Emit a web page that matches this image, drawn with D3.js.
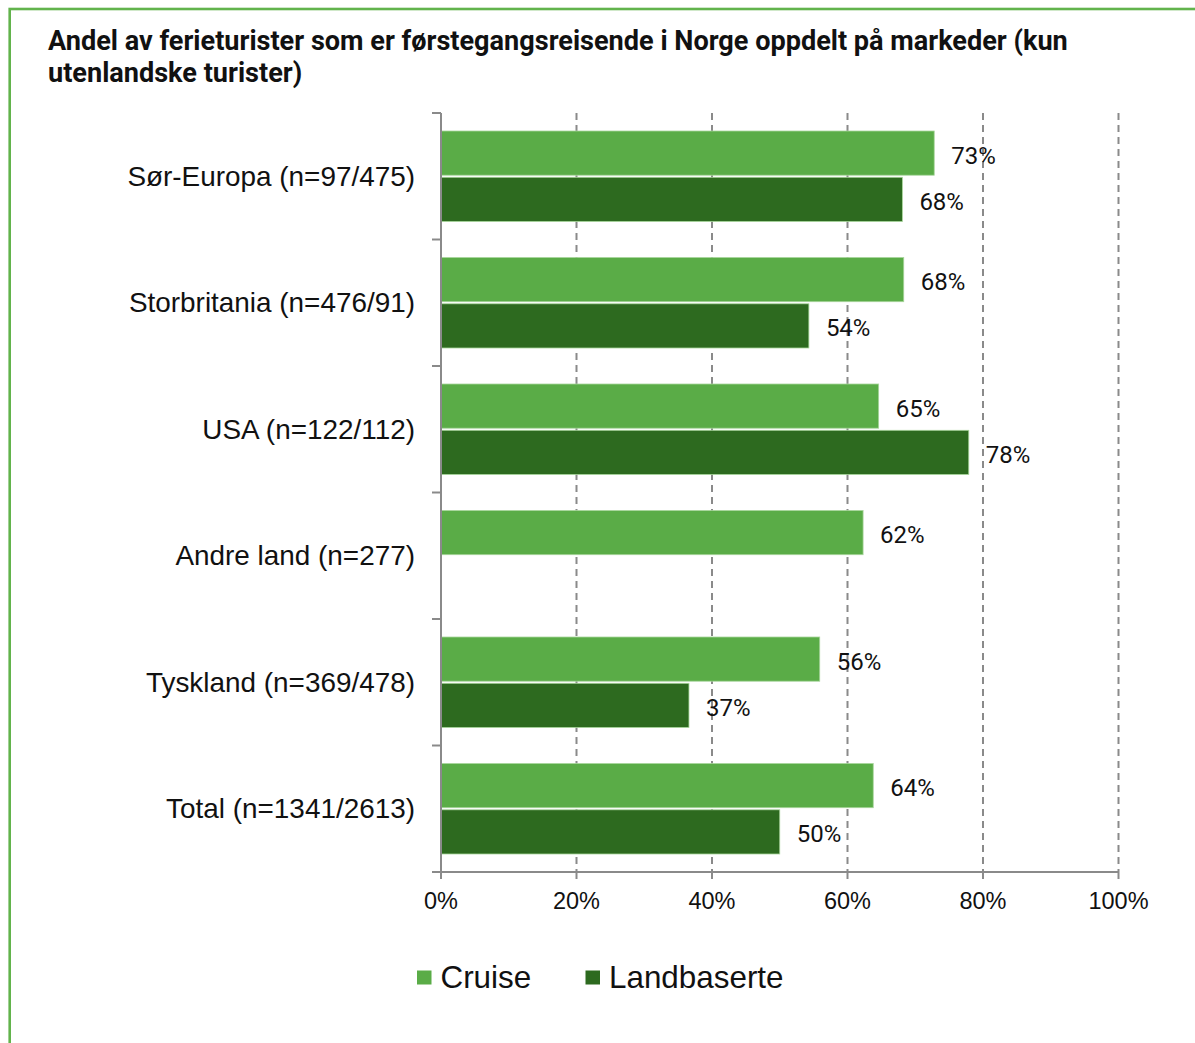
<!DOCTYPE html>
<html>
<head>
<meta charset="utf-8">
<script src="https://cdn.jsdelivr.net/npm/d3@7"></script>
<style>
  html, body { margin: 0; padding: 0; background: #fff; }
  svg { display: block; }
  .title { font-family: Roboto, "DejaVu Sans", sans-serif; font-weight: 700; fill: #111; }
  .cat-label { font-family: "Liberation Sans", Arial, sans-serif; font-size: 27.9px; fill: #111; }
  .tick-label { font-family: "Liberation Sans", Arial, sans-serif; font-size: 23.5px; fill: #111; }
  .value-label { font-family: Roboto, "DejaVu Sans", sans-serif; font-size: 24px; fill: #111; }
  .legend-label { font-family: "Liberation Sans", Arial, sans-serif; font-size: 31.4px; fill: #111; }
</style>
</head>
<body>
<svg id="chart" width="1195" height="1043"></svg>
<script>
// data (bar lengths estimated, labels rounded)
var categories = [
  'Sør-Europa (n=97/475)',
  'Storbritania (n=476/91)',
  'USA (n=122/112)',
  'Andre land (n=277)',
  'Tyskland (n=369/478)',
  'Total (n=1341/2613)'
];
var seriesNames = ['Cruise', 'Landbaserte'];
var cruiseValues = [72.8, 68.3, 64.6, 62.3, 55.9, 63.8];
var landValues = [68.1, 54.3, 77.9, null, 36.6, 50.0];
var tickValues = [0, 20, 40, 60, 80, 100];
var titleLines = [
  'Andel av ferieturister som er førstegangsreisende i Norge oppdelt på markeder (kun',
  'utenlandske turister)'
];

(function () {
  'use strict';

  var colors = { 'Cruise': '#5aac47', 'Landbaserte': '#2d6a1f' };
  var axisColor = '#8a8a8a';

  var svg = d3.select('#chart');

  // green frame, runs off the right and bottom edges
  svg.append('rect')
    .attr('x', 9.7).attr('y', 9)
    .attr('width', 1300).attr('height', 1200)
    .attr('fill', 'none')
    .attr('stroke', '#62b34c')
    .attr('stroke-width', 2.6);

  // title, fitted so the first line spans the same width as the reference
  var baseSize = 23;
  var lines = svg.append('g')
    .selectAll('text')
    .data(titleLines)
    .enter()
    .append('text')
    .attr('class', 'title')
    .attr('x', 48)
    .attr('y', function (d, i) { return 50 + i * 32; })
    .style('font-size', baseSize + 'px')
    .text(function (d) { return d; });
  var w = lines.nodes()[0].getComputedTextLength();
  lines.style('font-size', (baseSize * 1020 / w) + 'px');

  var x = d3.scaleLinear().domain([0, 100]).range([441, 1118.5]);
  var y = d3.scaleBand().domain(categories).range([113, 872]);
  var y1 = d3.scaleBand().domain(seriesNames)
    .range([18, y.step() - 18])
    .paddingInner(0.045);

  // dashed gridlines
  svg.append('g')
    .selectAll('line')
    .data(tickValues.filter(function (t) { return t > 0; }))
    .enter()
    .append('line')
    .attr('x1', function (d) { return x(d); })
    .attr('x2', function (d) { return x(d); })
    .attr('y1', 113).attr('y2', 872)
    .attr('stroke', axisColor)
    .attr('stroke-width', 2)
    .attr('stroke-dasharray', '7,5');

  // bars
  var rows = categories.map(function (c, i) {
    return { category: c, values: [
      { name: 'Cruise', value: cruiseValues[i] },
      { name: 'Landbaserte', value: landValues[i] }
    ] };
  });

  var group = svg.append('g')
    .selectAll('g')
    .data(rows)
    .enter()
    .append('g')
    .attr('transform', function (d) { return 'translate(0,' + y(d.category) + ')'; });

  var bar = group.selectAll('g')
    .data(function (d) { return d.values.filter(function (v) { return v.value != null; }); })
    .enter()
    .append('g');

  bar.append('rect')
    .attr('x', x(0))
    .attr('y', function (d) { return y1(d.name); })
    .attr('width', function (d) { return x(d.value) - x(0); })
    .attr('height', y1.bandwidth())
    .attr('fill', function (d) { return colors[d.name]; })
    .attr('stroke', '#a9d69c')
    .attr('stroke-width', 0.8);

  bar.append('text')
    .attr('class', 'value-label')
    .attr('x', function (d) { return x(d.value) + 17; })
    .attr('y', function (d) { return y1(d.name) + y1.bandwidth() / 2 + 10.5; })
    .text(function (d) { return Math.round(d.value) + '%'; });

  // y axis line and category ticks
  var axis = svg.append('g');
  axis.append('line')
    .attr('x1', 441).attr('x2', 441)
    .attr('y1', 113).attr('y2', 872)
    .attr('stroke', axisColor).attr('stroke-width', 2);

  axis.selectAll('.ytick')
    .data(categories)
    .enter()
    .append('line')
    .attr('class', 'ytick')
    .attr('x1', 432).attr('x2', 441)
    .attr('y1', function (d) { return y(d); })
    .attr('y2', function (d) { return y(d); })
    .attr('stroke', axisColor).attr('stroke-width', 2);

  axis.selectAll('.cat-label')
    .data(categories)
    .enter()
    .append('text')
    .attr('class', 'cat-label')
    .attr('x', 415)
    .attr('y', function (d) { return y(d) + y.bandwidth() / 2 + 9.5; })
    .attr('text-anchor', 'end')
    .text(function (d) { return d; });

  // x axis
  axis.append('line')
    .attr('x1', 432).attr('x2', x(100))
    .attr('y1', 872).attr('y2', 872)
    .attr('stroke', axisColor).attr('stroke-width', 2);

  axis.selectAll('.xtick')
    .data(tickValues)
    .enter()
    .append('line')
    .attr('class', 'xtick')
    .attr('x1', function (d) { return x(d); })
    .attr('x2', function (d) { return x(d); })
    .attr('y1', 872).attr('y2', 879)
    .attr('stroke', axisColor).attr('stroke-width', 2);

  axis.selectAll('.tick-label')
    .data(tickValues)
    .enter()
    .append('text')
    .attr('class', 'tick-label')
    .attr('x', function (d) { return x(d); })
    .attr('y', 909)
    .attr('text-anchor', 'middle')
    .text(function (d) { return d + '%'; });

  // legend
  var legendX = [417, 585.5];
  var legend = svg.append('g')
    .selectAll('g')
    .data(seriesNames)
    .enter()
    .append('g')
    .attr('transform', function (d, i) { return 'translate(' + legendX[i] + ',0)'; });

  legend.append('rect')
    .attr('x', 0).attr('y', 970.5)
    .attr('width', 14.5).attr('height', 14)
    .attr('fill', function (d) { return colors[d]; });

  legend.append('text')
    .attr('class', 'legend-label')
    .attr('x', 23.5)
    .attr('y', 988)
    .text(function (d) { return d; });
})();
</script>
</body>
</html>
